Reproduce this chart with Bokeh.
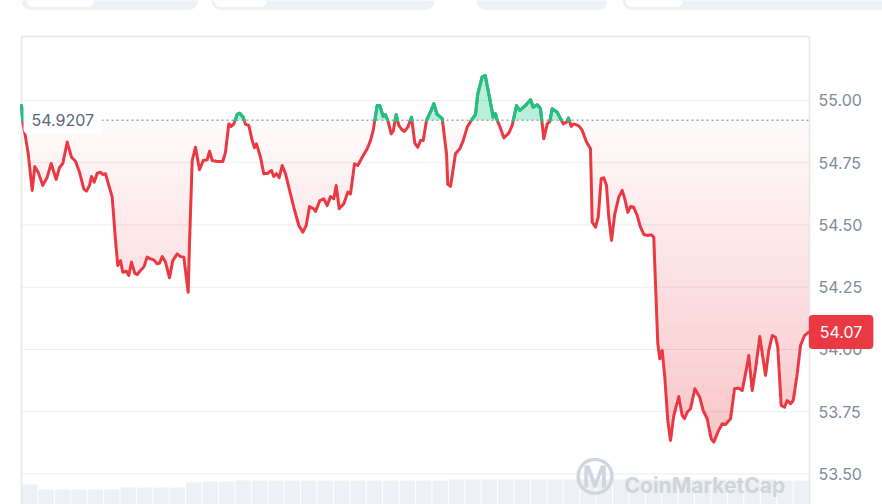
import numpy as np
from bokeh.plotting import figure
from bokeh.models import Range1d, Label, BoxAnnotation
from bokeh.core.properties import value
from bokeh.embed import file_html
from bokeh.resources import INLINE

# ---------------- data ----------------
REF_PRICE = 54.9207

times = [0, 1.3, 4, 6.7, 10.7, 13.3, 16.7, 21.3, 25.7, 29.7,
         34.7, 38, 41.3, 45.7, 50, 54, 58, 62.3, 65, 68,
         70, 72.7, 75.7, 79, 81.3, 84, 87.3, 90.7, 94, 96.3,
         99, 101.3, 105, 107.3, 110, 113.3, 115.7, 119, 122.3, 125.7,
         129, 132.3, 135.7, 138, 140.7, 144, 148, 151.3, 155.7, 159,
         162.3, 166.7, 168, 170.7, 174,
         178, 181.7, 185.7, 188, 190.7, 195.7, 201.3, 204, 207.3, 209.7,
         212.3, 215.7, 218.3, 221.7, 224, 227.3, 230.7, 233, 235, 239,
         242.3, 246.3, 250, 252.3, 255, 257.7, 260.7, 264, 267.3, 272.3,
         277.3, 281.3, 284.7, 288, 292.3, 294, 298.3, 302.3, 305.7, 309,
         312.3, 314.7, 317.7, 322.3, 326.3, 329, 333, 336.3, 340.7, 345.7,
         349,
         351.7, 355.7, 358.3, 361.7, 364, 366.3, 369.7, 371.7, 374.7, 377.3,
         380.7, 383, 386.3, 390, 393.3, 396.3, 399, 401.7, 405, 409.7,
         412.3, 415.7, 420.7, 425, 426.3, 429, 434, 438.3, 441.7, 445.7,
         449.7, 454, 456.3, 460.7, 463.7, 467.3, 471.7, 474, 475.7, 478.3,
         482.3, 487.3, 490.7, 495, 498.3, 504, 509, 511.7, 515.7, 519,
         522.3, 525.7, 528.3, 530.7, 535.7, 539, 541.7, 545, 547, 549.7,
         552.3, 557.3, 560.7, 565, 569,
         570.7, 574, 576.7, 579.7, 582.3, 585, 587.3, 590, 593.3, 597.3,
         600.7, 603.3, 606.3, 609, 612.3, 615.7, 619, 622.3, 626.3, 629.7,
         632.3, 634, 636.3, 638.3, 640.7, 643.3, 646.3, 649, 652.3, 657.3,
         660.7, 663, 665.7, 669, 673.3, 678.3, 681.7, 685.7, 689.7, 692.3,
         696.3, 700.7, 704, 709, 713, 717.3, 720.7, 724, 727.3, 730.7,
         734, 738.3, 742.3, 744, 747.3, 750.7, 754, 756.3, 759.7, 763,
         765.7, 769, 771.7, 775.7, 779, 783, 787.3]

prices = [54.980, 54.915, 54.853, 54.787, 54.639, 54.735, 54.712, 54.659, 54.692, 54.747,
          54.683, 54.731, 54.747, 54.833, 54.772, 54.756, 54.712, 54.645, 54.636, 54.659,
          54.695, 54.672, 54.708, 54.712, 54.703, 54.706, 54.659, 54.612, 54.438, 54.337,
          54.357, 54.310, 54.314, 54.297, 54.351, 54.306, 54.301, 54.317, 54.331, 54.371,
          54.364, 54.360, 54.344, 54.347, 54.373, 54.351, 54.288, 54.357, 54.384, 54.373,
          54.371, 54.230, 54.426, 54.759, 54.812,
          54.722, 54.759, 54.762, 54.796, 54.759, 54.755, 54.755, 54.792, 54.906, 54.896,
          54.906, 54.944, 54.949, 54.933, 54.904, 54.900, 54.839, 54.810, 54.826, 54.772,
          54.706, 54.708, 54.719, 54.695, 54.706, 54.690, 54.739, 54.706, 54.652, 54.571,
          54.498, 54.471, 54.498, 54.574, 54.565, 54.554, 54.598, 54.605, 54.578, 54.614,
          54.605, 54.659, 54.565, 54.585, 54.632, 54.625, 54.746, 54.739, 54.772, 54.806,
          54.839,
          54.880, 54.980, 54.980, 54.936, 54.943, 54.920, 54.866, 54.877, 54.943, 54.900,
          54.882, 54.876, 54.893, 54.933, 54.829, 54.812, 54.839, 54.839, 54.920, 54.960,
          54.987, 54.944, 54.927, 54.786, 54.663, 54.655, 54.786, 54.806, 54.839, 54.893,
          54.920, 54.943, 55.027, 55.096, 55.100, 55.027, 54.933, 54.947, 54.920, 54.896,
          54.850, 54.869, 54.900, 54.980, 54.960, 54.980, 55.003, 54.973, 54.983, 54.967,
          54.846, 54.906, 54.916, 54.967, 54.953, 54.927, 54.906, 54.913, 54.929, 54.896,
          54.906, 54.898, 54.880, 54.833, 54.806,
          54.511, 54.491, 54.531, 54.686, 54.690, 54.659, 54.531, 54.438, 54.545, 54.612,
          54.639, 54.605, 54.551, 54.574, 54.571, 54.538, 54.491, 54.462, 54.458, 54.461,
          54.451, 54.264, 54.023, 53.963, 53.996, 53.889, 53.715, 53.635, 53.735, 53.811,
          53.735, 53.722, 53.748, 53.762, 53.842, 53.808, 53.755, 53.722, 53.641, 53.628,
          53.668, 53.702, 53.699, 53.722, 53.842, 53.845, 53.835, 53.902, 53.976, 53.835,
          53.922, 54.052, 53.943, 53.896, 53.996, 54.056, 54.049, 54.009, 53.775, 53.768,
          53.795, 53.782, 53.795, 53.902, 54.016, 54.056, 54.070]

volumes = [2.0, 1.5, 1.5, 1.5, 1.5, 1.5, 1.7, 1.7, 1.7, 1.7,
           2.2, 2.3, 2.3, 2.4, 2.4, 2.4, 2.4, 2.4, 2.4, 2.4,
           2.4, 2.4, 2.4, 2.4, 2.4, 2.4, 2.5, 2.5, 2.5, 2.5,
           2.5, 2.5, 2.5, 2.5, 2.5, 2.5, 2.5, 2.5, 2.5, 2.5,
           2.5, 2.5, 2.5, 2.5, 2.5, 2.5, 2.4, 2.4]

y_ticks = [53.50, 53.75, 54.00, 54.25, 54.50, 54.75, 55.00]
y_tick_labels = ["53.50", "53.75", "54.00", "54.25", "54.50", "54.75", "55.00"]

assert len(times) == len(prices)

RED = "#ea3943"
GREEN = "#16c784"

T_END = 788          # right edge of the chart box (time units)
Y_TOP = 55.257       # top edge of the chart box
Y_BOT = 53.3775      # bottom of the drawing area
Y_MAX = 55.4016      # top of the drawing area

# ---------------- figure ----------------
p = figure(width=882, height=504, output_backend="svg", toolbar_location=None,
           x_axis_location=None, y_axis_location=None,
           x_range=Range1d(-21, 861), y_range=Range1d(Y_BOT, Y_MAX),
           min_border_left=0, min_border_right=0, min_border_top=0, min_border_bottom=0,
           background_fill_color="white", border_fill_color="white")
p.outline_line_color = None
p.xgrid.visible = False
p.ygrid.visible = False

# page tab strip at the very top (cut off by the window)
for lft, rgt in [(0, 176.5), (190, 413), (455, 586), (601, 880)]:
    p.add_layout(BoxAnnotation(left=lft, right=rgt, bottom=Y_MAX - 9.5 / 249, top=Y_MAX + 0.1,
                               fill_color="#eef1f5", fill_alpha=1, line_color=None,
                               border_radius=9))
for lft, rgt in [(5, 72.5), (192.5, 245.5), (604, 661.5)]:
    p.add_layout(BoxAnnotation(left=lft, right=rgt, bottom=Y_MAX - 6.5 / 249, top=Y_MAX + 0.1,
                               fill_color="white", fill_alpha=1, line_color=None,
                               border_radius=7))

# volume bars on their own range
p.extra_y_ranges = {"vol": Range1d(0, 50.4)}
nb = len(volumes)
bw = T_END / nb
vol_x = (np.arange(nb) + 0.5) * bw
p.vbar(x=vol_x, top=volumes, bottom=0, width=bw * 0.94, y_range_name="vol",
       fill_color="#edf0f4", line_color=None)

# grid lines limited to the chart box
p.segment(x0=np.zeros(len(y_ticks)), x1=np.full(len(y_ticks), T_END),
          y0=y_ticks, y1=y_ticks, line_color="#eceef1", line_width=1.2)

# chart box border (top, left, right)
p.multi_line(xs=[[0, T_END], [0, 0], [T_END, T_END]],
             ys=[[Y_TOP, Y_TOP], [Y_TOP, Y_BOT], [Y_TOP, Y_BOT]],
             line_color="#e6e8ec", line_width=1.5)

# tick labels on the right
p.text(x=np.full(len(y_ticks), T_END + 9), y=y_ticks, text=y_tick_labels,
       text_font=value("Inter"), text_font_size="16px", text_color="#808a9d",
       text_baseline="middle", text_align="left")

# ---------------- price series with crossing points ----------------
t = np.array(times, dtype=float)
v = np.array(prices, dtype=float)
ta, va = [t[0]], [v[0]]
for i in range(1, len(t)):
    a, b = v[i - 1] - REF_PRICE, v[i] - REF_PRICE
    if a * b < 0:
        f = a / (a - b)
        ta.append(t[i - 1] + f * (t[i] - t[i - 1]))
        va.append(REF_PRICE)
    ta.append(t[i])
    va.append(v[i])
ta = np.array(ta)
va = np.array(va)

# green fill above the reference
p.varea(x=ta, y1=np.full_like(va, REF_PRICE), y2=np.maximum(va, REF_PRICE),
        fill_color=GREEN, fill_alpha=0.3)

# red gradient fill below the reference (banded)
vmin = va.min()
nbands = 40
h = (REF_PRICE - vmin) / nbands
for k in range(nbands):
    top = REF_PRICE - k * h
    bot = top - h
    frac = (k + 0.5) / nbands
    alpha = 0.02 + 0.27 * frac
    y1 = np.clip(va, bot, top)
    p.varea(x=ta, y1=y1, y2=np.full_like(va, top), fill_color=RED, fill_alpha=alpha)

# dotted reference line
p.segment(x0=[0], x1=[T_END], y0=[REF_PRICE], y1=[REF_PRICE], line_color="#9ea4b0",
          line_width=1.5, line_dash="2 3")

# red line
p.line(ta, va, line_color=RED, line_width=3, line_join="round", line_cap="round")

# green pieces above the reference
gx, gy = [], []
cur_x, cur_y = [], []
for xx, yy in zip(ta, va):
    if yy >= REF_PRICE - 1e-12:
        cur_x.append(xx); cur_y.append(yy)
    else:
        if len(cur_x) >= 2:
            gx.append(cur_x); gy.append(cur_y)
        cur_x, cur_y = [], []
if len(cur_x) >= 2:
    gx.append(cur_x); gy.append(cur_y)
p.multi_line(gx, gy, line_color=GREEN, line_width=3, line_join="round", line_cap="round")

# reference price label
p.add_layout(Label(x=2, y=REF_PRICE, text=f"{REF_PRICE:.4f}", text_font="Inter",
                   text_font_size="16px", text_color="#58667e", text_baseline="middle",
                   text_align="left", padding=8, background_fill_color="white",
                   border_radius=5))

# current price label
p.add_layout(Label(x=times[-1], y=prices[-1], text=f"{prices[-1]:.2f}", text_font="Inter",
                   text_font_size="16px", text_color="white", text_baseline="middle",
                   text_align="left", padding=11, background_fill_color=RED,
                   border_radius=4))

# watermark
p.add_layout(Label(x=573, y=53.486, text="\u24c2", text_font="DejaVu Sans",
                   text_font_size="38px", text_font_style="bold", text_color="#cfd4dd",
                   text_align="center", text_baseline="middle"))
p.add_layout(Label(x=603, y=53.454, text="CoinMarketCap", text_font="Inter",
                   text_font_size="21px", text_font_style="bold", text_color="#cfd4dd",
                   text_align="left", text_baseline="alphabetic"))

open("out.html", "w").write(file_html(p, INLINE))
